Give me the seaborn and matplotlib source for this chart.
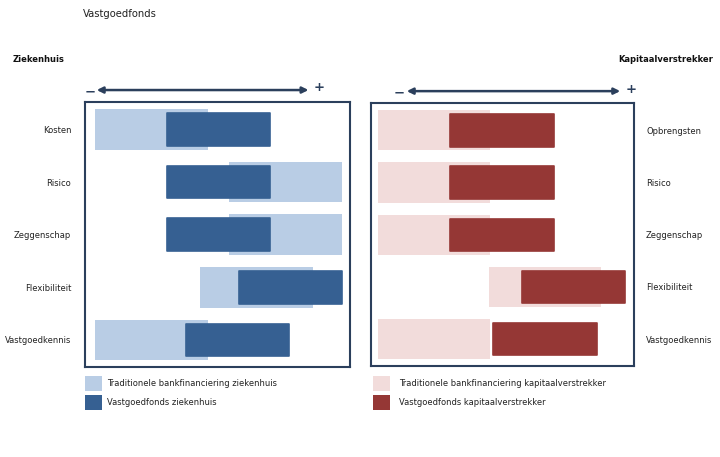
import matplotlib
matplotlib.use("Agg")
import matplotlib.pyplot as plt
import seaborn as sns
import pandas as pd
from matplotlib.patches import Patch

sns.set_theme(style="white")
plt.rcParams['font.family'] = ['DejaVu Sans']

# ---- data ----
title = "Vastgoedfonds"
left_title = "Ziekenhuis"
right_title = "Kapitaalverstrekker"
left_categories = ["Kosten", "Risico", "Zeggenschap", "Flexibiliteit", "Vastgoedkennis"]
right_categories = ["Opbrengsten", "Risico", "Zeggenschap", "Flexibiliteit", "Vastgoedkennis"]

# Ziekenhuis (scale 0 = most negative, 100 = most positive)
zh_trad_start = [0.0, 54.3, 54.3, 42.6, 0.0]
zh_trad_end = [45.6, 100.0, 100.0, 88.1, 45.6]
zh_fund_start = [29.0, 29.0, 29.0, 58.3, 36.8]
zh_fund_end = [70.9, 70.9, 70.9, 100.0, 78.5]

# Kapitaalverstrekker
kv_trad_start = [0.0, 0.0, 0.0, 44.8, 0.0]
kv_trad_end = [45.2, 45.2, 45.2, 90.2, 45.2]
kv_fund_start = [29.0, 29.0, 29.0, 58.2, 46.4]
kv_fund_end = [70.9, 70.9, 70.9, 100.0, 88.3]

left_legend = ["Traditionele bankfinanciering ziekenhuis", "Vastgoedfonds ziekenhuis"]
right_legend = ["Traditionele bankfinanciering kapitaalverstrekker", "Vastgoedfonds kapitaalverstrekker"]

# ---- style ----
LIGHT_BLUE = "#b9cde5"
DARK_BLUE = "#366092"
LIGHT_RED = "#f2dcdb"
DARK_RED = "#953735"
FRAME = "#2b3f5c"
TEXT = "#222222"

W, H = 720, 457
fig = plt.figure(figsize=(W / 100, H / 100), dpi=100)


def frac_box(x0, y0, x1, y1):
    return [x0 / W, 1 - y1 / H, (x1 - x0) / W, (y1 - y0) / H]


ax_l = fig.add_axes(frac_box(84.5, 101.7, 350, 366.7))
ax_r = fig.add_axes(frac_box(370.7, 102.7, 634.3, 365.7))


def draw_panel(ax, cats, t_start, t_end, f_start, f_end, light, dark, xlim):
    df_t = pd.DataFrame({"cat": cats, "start": t_start,
                         "len": [e - s for s, e in zip(t_start, t_end)]})
    df_f = pd.DataFrame({"cat": cats, "start": f_start,
                         "len": [e - s for s, e in zip(f_start, f_end)]})
    sns.barplot(data=df_t, y="cat", x="len", order=cats, orient="y",
                left=df_t["start"].values, color=light, saturation=1,
                width=0.77, errorbar=None, linewidth=0, ax=ax)
    sns.barplot(data=df_f, y="cat", x="len", order=cats, orient="y",
                left=df_f["start"].values, color=dark, saturation=1,
                width=0.62, errorbar=None, linewidth=1.2, edgecolor=dark,
                ax=ax)
    for p in ax.patches[len(cats):]:
        p.set_joinstyle("round")
    ax.set_xlim(*xlim)
    ax.set_ylim(4.51, -0.53)
    ax.set_xlabel("")
    ax.set_ylabel("")
    ax.set_xticks([])
    for s in ax.spines.values():
        s.set_visible(True)
        s.set_color(FRAME)
        s.set_linewidth(1.5)
    ax.tick_params(axis="y", length=0, labelsize=6, labelcolor=TEXT)


draw_panel(ax_l, left_categories, zh_trad_start, zh_trad_end,
           zh_fund_start, zh_fund_end, LIGHT_BLUE, DARK_BLUE, (-4.25, 103.2))
draw_panel(ax_r, right_categories, kv_trad_start, kv_trad_end,
           kv_fund_start, kv_fund_end, LIGHT_RED, DARK_RED, (-3.1, 103.6))

ax_l.tick_params(axis="y", pad=9.5)
ax_r.yaxis.tick_right()
ax_r.tick_params(axis="y", pad=8.5)


def draw_arrow(ax, x0, x1, minus_x, plus_x):
    tr = ax.get_xaxis_transform()
    ax.annotate("", xy=(x0, 1.044), xytext=(x1, 1.044), xycoords=tr, textcoords=tr,
                arrowprops=dict(arrowstyle="<|-|>", color=FRAME, lw=1.8,
                                mutation_scale=9, shrinkA=0, shrinkB=0),
                annotation_clip=False)
    ax.text(minus_x, 1.036, "\u2212", transform=tr, ha="center", va="center",
            fontsize=9.5, fontweight="bold", color=FRAME, clip_on=False)
    ax.text(plus_x, 1.052, "+", transform=tr, ha="center", va="center",
            fontsize=9.5, fontweight="bold", color=FRAME, clip_on=False)


draw_arrow(ax_l, 0.7, 86.4, -2.1, 90.7)
draw_arrow(ax_r, 11.5, 97.9, 8.5, 102.4)

fig.text(83 / W, 1 - 14 / H, title, fontsize=7.2, color=TEXT, ha="left", va="center")
fig.text(13 / W, 1 - 60 / H, left_title, fontsize=6, fontweight="bold",
         color="#111111", ha="left", va="center")
fig.text(713 / W, 1 - 60 / H, right_title, fontsize=6, fontweight="bold",
         color="#111111", ha="right", va="center")


def add_legend(labels, colors, x, y, textpad):
    handles = [Patch(facecolor=c, edgecolor="none") for c in colors]
    fig.legend(handles, labels, loc="upper left", bbox_to_anchor=(x / W, 1 - y / H),
               frameon=False, fontsize=6, handlelength=2.0, handleheight=2.35,
               labelspacing=0.54, handletextpad=textpad, borderpad=0,
               borderaxespad=0, labelcolor=TEXT)


add_legend(left_legend, [LIGHT_BLUE, DARK_BLUE], 85, 376, 0.6)
add_legend(right_legend, [LIGHT_RED, DARK_RED], 373.3, 376, 1.1)

fig.savefig("out.png", dpi=100, facecolor="white")
